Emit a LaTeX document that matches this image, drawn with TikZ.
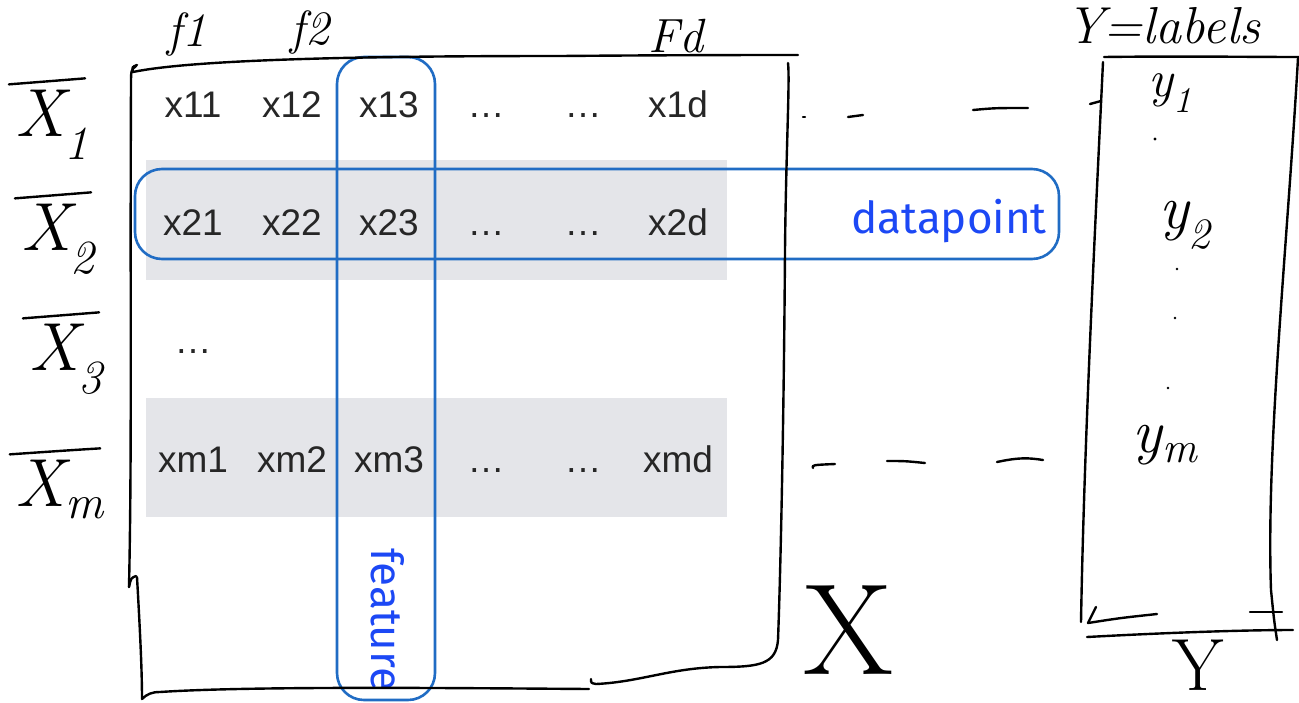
\documentclass[tikz,border=0pt]{standalone}
\usepackage{fontspec}
\newfontfamily\cellfont{Liberation Sans}
\newfontfamily\tagfont{Fira Sans}
\definecolor{bandgray}{RGB}{228,229,233}
\definecolor{boxblue}{RGB}{32,108,196}
\definecolor{tagblue}{RGB}{28,72,245}
\begin{document}
\begin{tikzpicture}[x=1pt,y=-1pt,
  pen/.style={line width=2.4pt,line cap=round,line join=round,black},
  cell/.style={font=\cellfont\fontsize{37}{40}\selectfont,text=black!85,inner sep=0pt,anchor=base},
  band/.style={fill=bandgray,draw=none},
  frame/.style={draw=boxblue,line width=2.6pt,rounded corners=27pt,inner sep=0pt},
  tag/.style={font=\tagfont\fontsize{44}{48}\selectfont,text=tagblue,inner sep=0pt},
  rowlabel/.style={font=\itshape\fontsize{68}{72}\selectfont,inner sep=0pt},
  collabel/.style={font=\itshape\fontsize{48}{52}\selectfont,inner sep=0pt},
  ylabel/.style={font=\itshape\fontsize{62}{66}\selectfont,inner sep=0pt},
  bigletter/.style={font=\fontsize{130}{134}\selectfont,inner sep=0pt}
]
\useasboundingbox (0,0) rectangle (1299,702);
\fill[white] (0,0) rectangle (1299,702);

% shaded rows of the data matrix
\fill[band] (146,160) rectangle (727,280);
\fill[band] (146,398) rectangle (727,517);

% matrix entries
\node[cell] (c11) at (193,117) {x11};
\node[cell] (c12) at (292,117) {x12};
\node[cell] (c13) at (389,117) {x13};
\node[cell] (c14) at (486,117) {\dots};
\node[cell] (c15) at (583,117) {\dots};
\node[cell] (c1d) at (678,117) {x1d};

\node[cell] (c21) at (193,235) {x21};
\node[cell] (c22) at (292,235) {x22};
\node[cell] (c23) at (389,235) {x23};
\node[cell] (c24) at (486,235) {\dots};
\node[cell] (c25) at (583,235) {\dots};
\node[cell] (c2d) at (678,235) {x2d};

\node[cell] (c31) at (193,353) {\dots};

\node[cell] (cm1) at (193,472) {xm1};
\node[cell] (cm2) at (292,472) {xm2};
\node[cell] (cm3) at (389,472) {xm3};
\node[cell] (cm4) at (486,472) {\dots};
\node[cell] (cm5) at (583,472) {\dots};
\node[cell] (cmd) at (678,472) {xmd};

% highlighted column and row
\node[frame,minimum width=98pt,minimum height=643pt] (featurebox) at (386,378.5) {};
\node[frame,minimum width=924pt,minimum height=90pt] (pointbox) at (597,214) {};
\node[tag,anchor=base east] (pointtag) at (1047,233) {datapoint};
\node[tag,rotate=-90,anchor=base west] (featuretag) at (371,548) {feature};

% column headings
\node[collabel] (f1) at (187,34) {f1};
\node[collabel] (f2) at (310,32) {f2};
\node[collabel] (fd) at (676,36) {Fd};

% row headings, each with a bar over it
\foreach \n/\s/\px/\py in {x1/1/52/114, x2/2/58/228, x3/3/66/348, xm/m/60/484} {
  \node[rowlabel,anchor=base] (\n) at (\px,\py+22) {X\textsubscript{\s}};
  \draw[pen] ([xshift=-6pt,yshift=5pt]\n.north west) .. controls ([xshift=8pt,yshift=9pt]\n.north) .. ([xshift=-4pt,yshift=11pt]\n.north east);
}

% hand-drawn frame of the matrix
\draw[pen] (137,65) .. controls (132,67) .. (133,72)
  .. controls (200,58) and (400,56) .. (560,56) .. controls (680,55) and (760,55) .. (798,55);
\draw[pen] (136,66) .. controls (131,70) .. (131,85)
  .. controls (130,300) and (132,450) .. (129,587);
\draw[pen] (129,587) .. controls (131,578) .. (136,576);
\draw[pen] (137,577) .. controls (140,630) and (142,670) .. (142,699)
  .. controls (147,694) and (152,692) .. (160,692)
  .. controls (250,686) and (450,688) .. (589,689);
\draw[pen] (591,679) .. controls (591,683) .. (596,684)
  .. controls (640,682) and (670,668) .. (720,667)
  .. controls (760,667) and (776,664) .. (778,640)
  .. controls (781,560) and (784,400) .. (785,250)
  .. controls (786,150) and (790,80) .. (788,63);

% dashes leading to the labels
\draw[pen] (803,117) -- (805,117);
\draw[pen] (848,117) -- (863,115);
\draw[pen] (973,110) .. controls (995,108) .. (1028,108);
\draw[pen] (813,468) .. controls (812,465) .. (835,464);
\draw[pen] (887,461) .. controls (905,461) .. (925,463);
\draw[pen] (997,462) .. controls (1020,457) and (1030,458) .. (1043,460);

% matrix name
\node[bigletter] (xname) at (849,630) {X};

% label column
\node[font=\itshape\fontsize{52}{56}\selectfont,inner sep=0pt] (ytitle) at (1163,26) {Y=labels};
\draw[pen] (1104,57) .. controls (1180,56) and (1250,57) .. (1299,57);
\draw[pen] (1103,62) .. controls (1094,250) and (1084,450) .. (1081,622);
\draw[pen] (1090,104) -- (1101,101);
\draw[pen] (1298,58) .. controls (1287,250) and (1266,450) .. (1271,590) .. controls (1274,620) .. (1277,640);
\draw[pen] (1088,623) .. controls (1120,618) .. (1157,614);
\draw[pen] (1088,623) -- (1096,607);
\draw[pen] (1087,637) .. controls (1180,632) and (1250,630) .. (1293,630);
\draw[pen] (1250,612) -- (1282,612);
\node[ylabel,font=\itshape\fontsize{52}{56}\selectfont] (y1) at (1170,93) {y\textsubscript{1}};
\node[ylabel] (y2) at (1185,225) {y\textsubscript{2}};
\node[ylabel] (ym) at (1165,445) {y\textsubscript{m}};
\fill (1155,139) circle (1.6);
\fill (1177,269) circle (1.4);
\fill (1175,318) circle (1.4);
\fill (1168,388) circle (1.4);
\node[font=\fontsize{74}{78}\selectfont,inner sep=0pt,anchor=north] (yname) at (1198,640) {Y};
\end{tikzpicture}
\end{document}
